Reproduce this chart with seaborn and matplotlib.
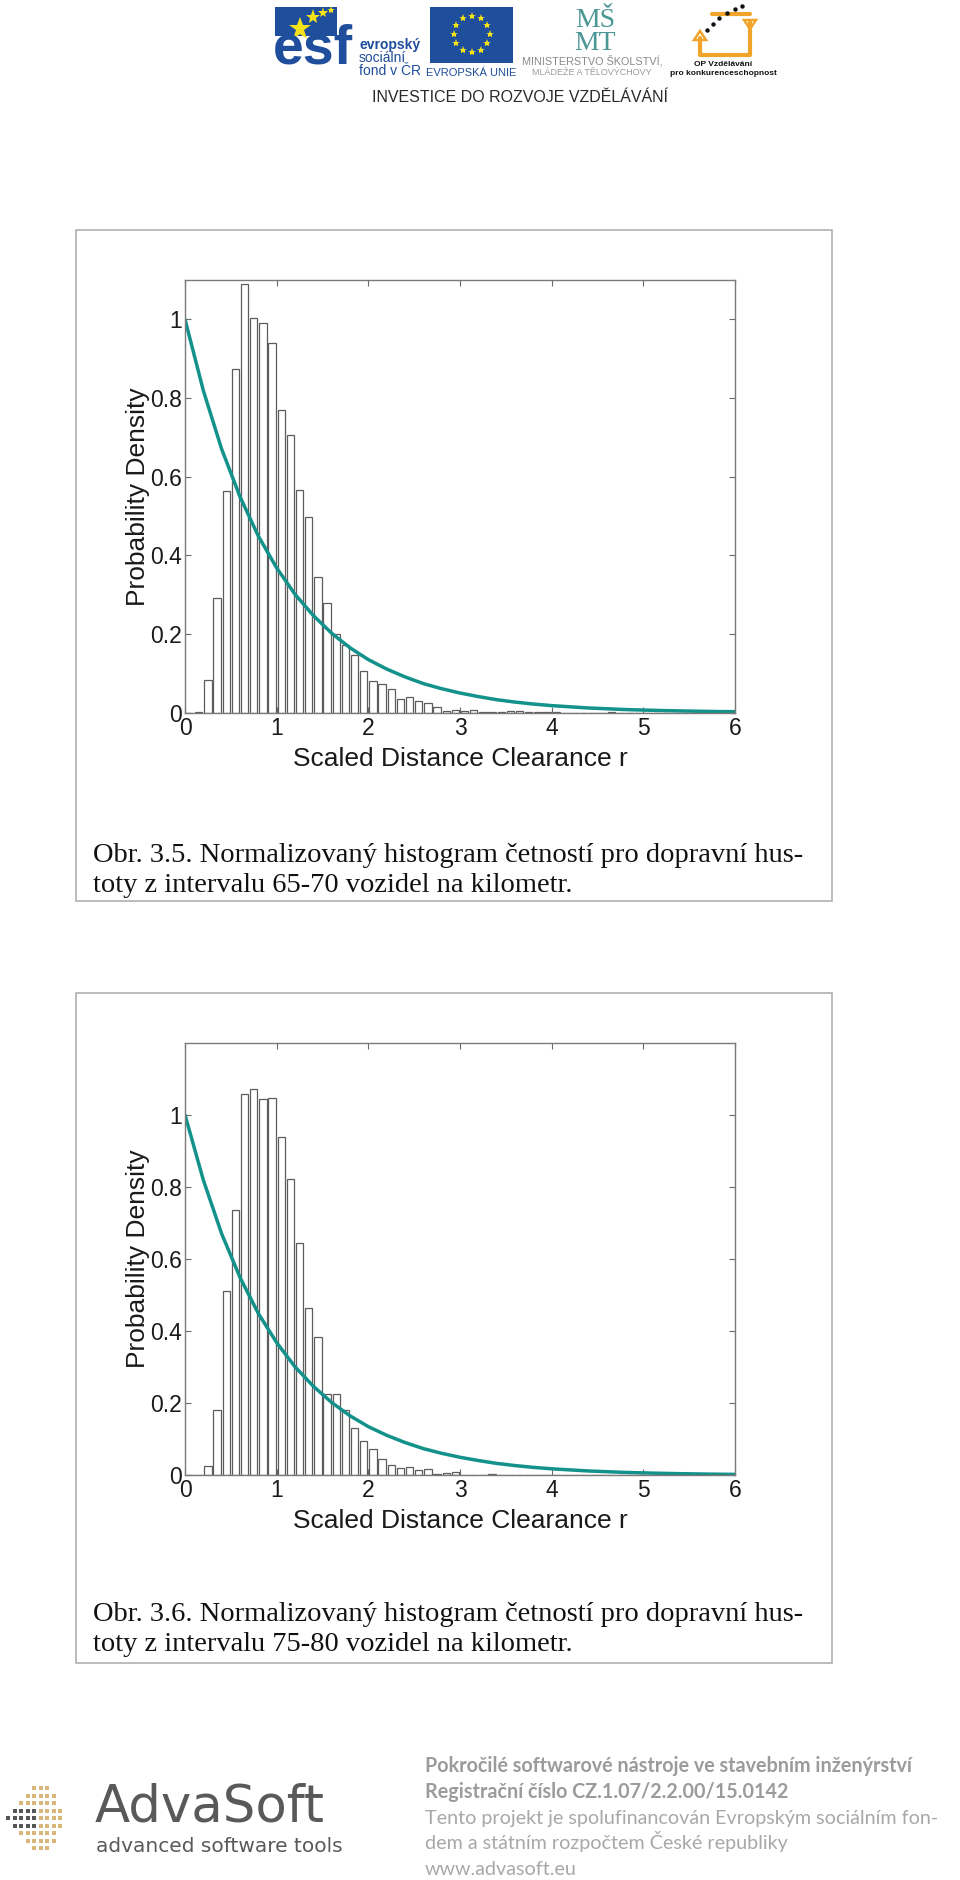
import numpy as np
import pandas as pd
import matplotlib
matplotlib.use('Agg')
import matplotlib.pyplot as plt
from matplotlib.patches import Rectangle, Polygon
from matplotlib.lines import Line2D
import seaborn as sns

# histogram bins 0..6, width 0.1 (bin centres 0.05 ... 5.95)
bin_centers = np.round(np.arange(0.05, 6.0, 0.1), 2)

# Obr. 3.5 (65-70 vozidel/km)
dens_65_70 = [0.0, 0.002, 0.083, 0.291, 0.564, 0.873, 1.089, 1.004, 0.990, 0.941,
              0.769, 0.706, 0.567, 0.497, 0.344, 0.278, 0.200, 0.172, 0.147, 0.106,
              0.081, 0.073, 0.059, 0.036, 0.040, 0.030, 0.024, 0.014, 0.005, 0.007,
              0.005, 0.008, 0.003, 0.001, 0.001, 0.005, 0.005, 0.002, 0.002, 0.002,
              0.001, 0.0, 0.0, 0.0, 0.0, 0.0, 0.001, 0.0, 0.0, 0.0,
              0.0, 0.0, 0.0, 0.0, 0.0, 0.0, 0.0, 0.0, 0.0, 0.0]

# Obr. 3.6 (75-80 vozidel/km)
dens_75_80 = [0.0, 0.0, 0.026, 0.181, 0.510, 0.735, 1.057, 1.071, 1.043, 1.047,
              0.938, 0.822, 0.644, 0.463, 0.383, 0.225, 0.226, 0.181, 0.130, 0.096,
              0.074, 0.045, 0.028, 0.019, 0.024, 0.015, 0.018, 0.003, 0.006, 0.010,
              0.002, 0.0, 0.002, 0.004, 0.002, 0.0, 0.001, 0.002, 0.0, 0.0,
              0.0, 0.0, 0.0, 0.0, 0.0, 0.0, 0.0, 0.0, 0.0, 0.0,
              0.0, 0.0, 0.0, 0.0, 0.0, 0.0, 0.0, 0.0, 0.0, 0.0]

# teal reference curve
curve_r = [0.0, 0.2, 0.4, 0.6, 0.8, 1.0, 1.2, 1.4, 1.6, 1.8, 2.0, 2.2, 2.4, 2.6, 2.8, 3.0,
           3.2, 3.4, 3.6, 3.8, 4.0, 4.2, 4.4, 4.6, 4.8, 5.0, 5.2, 5.4, 5.6, 5.8, 6.0]
curve_p = [1.0, 0.819, 0.670, 0.549, 0.449, 0.368, 0.301, 0.247, 0.202, 0.165, 0.135,
           0.111, 0.091, 0.074, 0.061, 0.050, 0.041, 0.033, 0.027, 0.022, 0.018, 0.015,
           0.012, 0.010, 0.008, 0.0067, 0.0055, 0.0045, 0.0037, 0.0030, 0.0025]

x_ticks = [0, 1, 2, 3, 4, 5, 6]
y_ticks = [0, 0.2, 0.4, 0.6, 0.8, 1.0]
y_tick_labels = ['0', '0.2', '0.4', '0.6', '0.8', '1']

captions = [
    ['Obr. 3.5. Normalizovaný histogram četností pro dopravní hus-',
     'toty z intervalu 65-70 vozidel na kilometr.'],
    ['Obr. 3.6. Normalizovaný histogram četností pro dopravní hus-',
     'toty z intervalu 75-80 vozidel na kilometr.'],
]

sns.set_theme(style='ticks')
plt.rcParams['font.family'] = ['Liberation Sans', 'DejaVu Sans']

W, H = 960, 1880
fig = plt.figure(figsize=(W / 100, H / 100), dpi=100)
fig.patch.set_facecolor('white')


def fx(x):
    return x / W


def fy(y):
    return 1 - y / H


def txt(x, y, s, **kw):
    fig.text(fx(x), fy(y), s, **kw)


def rect(x0, y0, x1, y1, **kw):
    fig.patches.append(Rectangle((fx(x0), fy(y1)), fx(x1) - fx(x0), fy(y0) - fy(y1),
                                 transform=fig.transFigure, **kw))


def dots(xs, ys, **kw):
    fig.lines.append(Line2D([fx(v) for v in xs], [fy(v) for v in ys], linestyle='none',
                            transform=fig.transFigure, **kw))


def hist_panel(top, bottom, vals, ymax):
    ax = fig.add_axes([fx(185), fy(bottom), fx(735) - fx(185), fy(top) - fy(bottom)])
    df = pd.DataFrame({'r': bin_centers, 'p': vals})
    sns.histplot(data=df, x='r', weights='p', binwidth=0.1, binrange=(0, 6), stat='count',
                 shrink=0.8, color='white', edgecolor='#5c5c5c', linewidth=0.9, alpha=1, ax=ax)
    sns.lineplot(x=curve_r, y=curve_p, color='#13918b', linewidth=2.5, ax=ax)
    ax.set_xlim(0, 6)
    ax.set_ylim(0, ymax)
    ax.set_xticks(x_ticks)
    ax.set_xticklabels([str(t) for t in x_ticks])
    ax.set_yticks(y_ticks)
    ax.set_yticklabels(y_tick_labels)
    ax.tick_params(direction='in', top=True, right=True, length=4, width=0.8,
                   color='#6a6a6a', labelsize=16.5, labelcolor='#1a1a1a', pad=2)
    ax.tick_params(axis='x', pad=3)
    for sp in ax.spines.values():
        sp.set_color('#7a7a7a')
        sp.set_linewidth(1.0)
    ax.set_xlabel('Scaled Distance Clearance r', fontsize=19, color='#1a1a1a', labelpad=5)
    ax.set_ylabel('Probability Density', fontsize=19, color='#1a1a1a', labelpad=0)
    ax.set_facecolor('white')
    return ax


# figure frames
rect(76, 230, 832, 901, fill=False, edgecolor='#b0b0b0', linewidth=1.2)
rect(76, 993, 832, 1663, fill=False, edgecolor='#b0b0b0', linewidth=1.2)

hist_panel(280, 712.7, dens_65_70, 1.10)
hist_panel(1042.7, 1475.3, dens_75_80, 1.20)

for cap, base in zip(captions, [862, 1621]):
    for i, line in enumerate(cap):
        txt(93, base + 30 * i, line, fontsize=20.5, family=['Liberation Serif', 'DejaVu Serif'],
            color='#111111', va='baseline')

# ---- header logos ----
blue = '#1f4e9c'
yellow = '#f5e31a'
rect(275, 7, 337, 36, color=blue, linewidth=0)
txt(273, 63, 'esf', fontsize=40, fontweight='bold', color=blue, va='baseline')
for (sx, sy, ss) in [(300, 29, 17), (313, 17, 11), (323, 13, 8), (331, 10, 6)]:
    dots([sx], [sy], marker='*', markersize=ss, color=yellow, markeredgewidth=0)
txt(359, 49, 'evropský', fontsize=10, fontweight='bold', color=blue, va='baseline')
txt(359, 62, 'sociální', fontsize=10, color=blue, va='baseline')
txt(359, 75, 'fond v ČR', fontsize=10, color=blue, va='baseline')

rect(430, 7, 513, 63, color=blue, linewidth=0)
ang = np.linspace(0, 2 * np.pi, 13)[:-1]
dots(471.5 + 18 * np.cos(ang), 34 + 18 * np.sin(ang), marker='*', markersize=6,
     color=yellow, markeredgewidth=0)
txt(471.5, 76, 'EVROPSKÁ UNIE', fontsize=8, color=blue, ha='center', va='baseline')

teal = '#4a9794'
txt(595, 32, 'MŠ\nMT', fontsize=20, color=teal, ha='center', va='center',
    multialignment='center', linespacing=0.9,
    family=['Liberation Serif', 'DejaVu Serif'])
txt(592, 65, 'MINISTERSTVO ŠKOLSTVÍ,', fontsize=7.8, color='#8a8a8a', ha='center', va='baseline')
txt(592, 75, 'MLÁDEŽE A TĚLOVÝCHOVY', fontsize=6.5, color='#9a9a9a', ha='center', va='baseline')

orange = '#f0a52a'
fig.lines.append(Line2D([fx(700), fx(700), fx(750), fx(750)], [fy(38), fy(55), fy(55), fy(22)],
                        transform=fig.transFigure, color=orange, linewidth=3))
fig.lines.append(Line2D([fx(712), fx(750)], [fy(14), fy(14)], transform=fig.transFigure,
                        color=orange, linewidth=3))
fig.patches.append(Polygon([[fx(694), fy(40)], [fx(706), fy(40)], [fx(700), fy(31)]],
                           closed=True, transform=fig.transFigure, fill=False,
                           edgecolor=orange, linewidth=1.8))
fig.patches.append(Polygon([[fx(744), fy(20)], [fx(756), fy(20)], [fx(750), fy(29)]],
                           closed=True, transform=fig.transFigure, fill=False,
                           edgecolor=orange, linewidth=1.8))
dots([707, 713, 719, 727, 735, 742], [30, 24, 18, 13, 9, 6], marker='o', markersize=3.2,
     color='#111111', markeredgewidth=0)
txt(723, 66, 'OP Vzdělávání', fontsize=6, fontweight='bold', color='#111111',
    ha='center', va='baseline')
txt(723, 75, 'pro konkurenceschopnost', fontsize=6, fontweight='bold', color='#111111',
    ha='center', va='baseline')

txt(520, 102, 'INVESTICE DO ROZVOJE VZDĚLÁVÁNÍ', fontsize=11.5, color='#2a2a2a',
    ha='center', va='baseline')

# ---- footer ----
gx, gy, gc = [], [], []
for i in range(9):
    for j in range(9):
        d = abs(i - 4)
        if j < d or j > 8 - d // 2:
            continue
        gx.append(8 + 6.5 * j)
        gy.append(1788 + 7.5 * i)
        gc.append('#55565a' if (j < 5 and d < 2) else '#d9b77a')
for c in ['#55565a', '#d9b77a']:
    dots([a for a, k in zip(gx, gc) if k == c], [b for b, k in zip(gy, gc) if k == c],
         marker='s', markersize=3, color=c, markeredgewidth=0)
txt(95, 1821, 'AdvaSoft', fontsize=37, color='#58595b', va='baseline',
    family=['DejaVu Sans'])
txt(96, 1852, 'advanced software tools', fontsize=14.5, color='#58595b', va='baseline',
    family=['DejaVu Sans'])

foot = [('Pokročilé softwarové nástroje ve stavebním inženýrství', 'bold', '#9b9b9b'),
        ('Registrační číslo CZ.1.07/2.2.00/15.0142', 'bold', '#9b9b9b'),
        ('Tento projekt je spolufinancován Evropským sociálním fon-', 'normal', '#a8a8a8'),
        ('dem a státním rozpočtem České republiky', 'normal', '#a8a8a8'),
        ('www.advasoft.eu', 'normal', '#a8a8a8')]
for k, (s, wgt, col) in enumerate(foot):
    txt(425, 1772 + 25.8 * k, s, fontsize=14.2, fontweight=wgt, color=col, va='baseline',
        family=['Lato', 'DejaVu Sans'])

fig.savefig('out.png', dpi=100, facecolor='white')
